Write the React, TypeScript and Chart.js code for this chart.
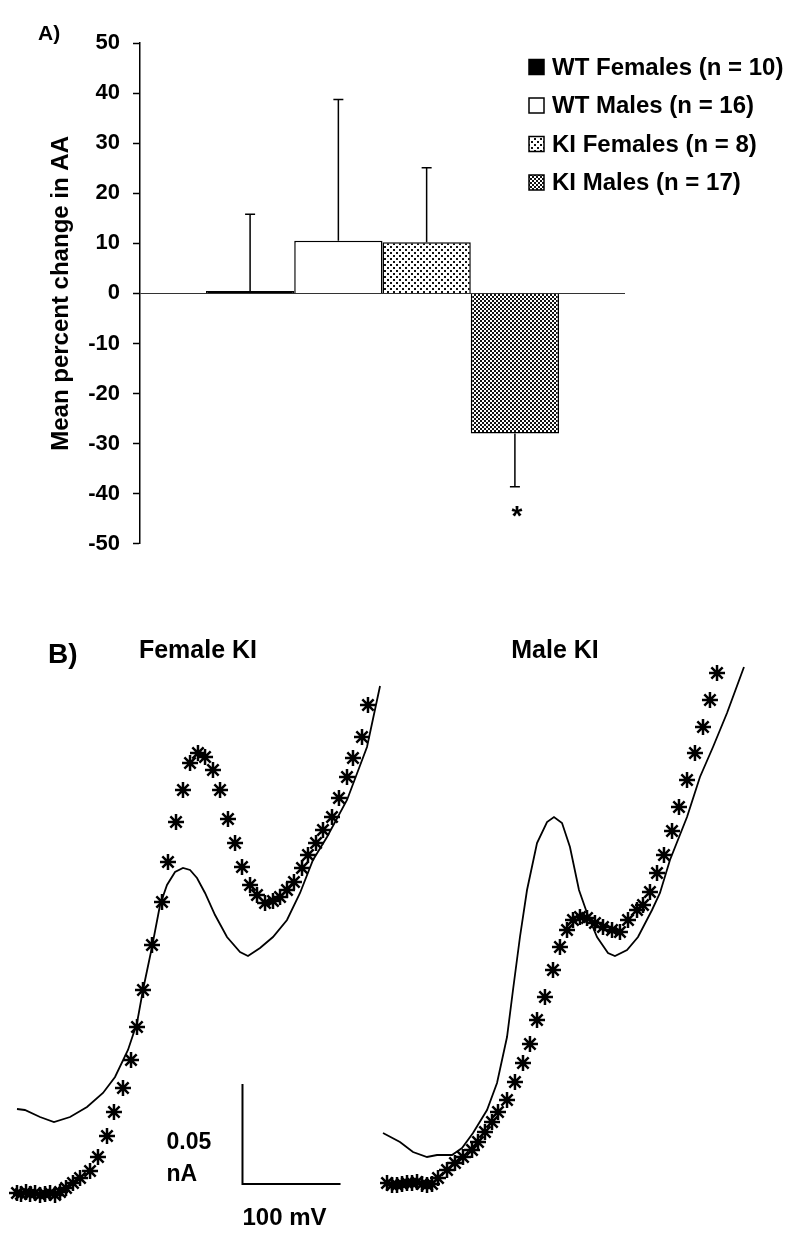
import React, { useEffect, useRef } from "react";
import { Chart, registerables } from "chart.js";

Chart.register(...registerables);

const FONT = "'Liberation Sans', Arial, Helvetica, sans-serif";

// ---------- Panel A data ----------
const groupLabels = [
  "WT Females (n = 10)",
  "WT Males (n = 16)",
  "KI Females (n = 8)",
  "KI Males (n = 17)",
];
const meanChange = [0.5, 10.5, 10.2, -28.0];
const errorSize = [15.3, 28.2, 14.9, 10.6];
const significant = [false, false, false, true];
const yMin = -50;
const yMax = 50;
const yStep = 10;

// ---------- Panel B data (potential in mV, current in nA) ----------
const femaleLineMV = [0, 8, 23.5, 37.7, 54.1, 71.4, 87.7, 100, 113.2, 122.4, 128.5, 137.7, 145.9, 153, 161.2, 169.3, 176.5, 183.6, 191.8, 202, 214.2, 227.5, 235.6, 247.9, 261.1, 275.4, 288.7, 301.9, 316.2, 336.6, 357, 370.3];
const femaleLineNA = [0.0455, 0.045, 0.0415, 0.039, 0.0415, 0.0465, 0.0535, 0.0615, 0.075, 0.0885, 0.105, 0.1265, 0.1475, 0.1575, 0.164, 0.166, 0.165, 0.161, 0.1535, 0.1425, 0.1315, 0.124, 0.122, 0.126, 0.1315, 0.14, 0.1535, 0.17, 0.1815, 0.2, 0.2265, 0.257];

const femaleStarMV = [0, 4.1, 9.2, 13.3, 18.4, 23.5, 28.6, 33.7, 38.8, 43.9, 50, 57.1, 64.3, 74.5, 82.6, 91.8, 98.9, 108.1, 116.3, 122.4, 128.5, 137.7, 147.9, 154, 162.2, 169.3, 176.5, 184.6, 191.8, 199.9, 207.1, 215.2, 222.4, 229.5, 237.7, 244.8, 253, 261.1, 268.3, 275.4, 282.5, 290.7, 296.8, 305, 312.1, 321.3, 328.4, 336.6, 342.7, 351.9, 358];
const femaleStarNA = [0.0035, 0.003, 0.004, 0.003, 0.0035, 0.0025, 0.003, 0.0035, 0.0025, 0.004, 0.006, 0.0085, 0.011, 0.0145, 0.0215, 0.032, 0.044, 0.056, 0.07, 0.0865, 0.105, 0.1275, 0.149, 0.169, 0.189, 0.205, 0.2185, 0.2235, 0.2215, 0.215, 0.205, 0.1905, 0.1785, 0.1665, 0.1575, 0.1525, 0.1485, 0.1495, 0.1515, 0.155, 0.159, 0.166, 0.1725, 0.1785, 0.185, 0.1915, 0.201, 0.2115, 0.221, 0.2315, 0.2475];

const maleLineMV = [0, 17.3, 30.6, 44.9, 55.1, 70.4, 80.6, 91.8, 106.1, 116.3, 126.5, 132.6, 139.7, 146.9, 157.1, 167.3, 174.4, 182.6, 190.7, 199.9, 208.1, 218.3, 229.5, 236.6, 248.9, 260.1, 274.4, 282.5, 292.7, 310.1, 323.3, 336.6, 350.9, 368.2];
const maleLineNA = [0.0335, 0.029, 0.024, 0.0215, 0.0225, 0.0225, 0.026, 0.0335, 0.045, 0.0585, 0.0815, 0.105, 0.1315, 0.155, 0.1785, 0.189, 0.1915, 0.1885, 0.1765, 0.155, 0.1435, 0.1315, 0.1235, 0.122, 0.125, 0.1315, 0.145, 0.1535, 0.17, 0.1915, 0.2115, 0.2265, 0.2435, 0.2665];

const maleStarMV = [4.1, 9.2, 14.3, 19.4, 24.5, 29.6, 34.7, 39.8, 44.9, 50, 56.1, 65.3, 73.4, 81.6, 90.8, 96.9, 104, 111.2, 117.3, 126.5, 134.6, 142.8, 149.9, 157.1, 165.2, 173.4, 180.5, 187.7, 193.8, 200.9, 208.1, 216.2, 224.4, 233.6, 241.7, 249.9, 259.1, 265.2, 272.3, 279.5, 286.6, 294.8, 301.9, 310.1, 318.2, 326.4, 333.5, 340.7];
const maleStarNA = [0.0085, 0.0075, 0.0075, 0.008, 0.0085, 0.0085, 0.009, 0.008, 0.0075, 0.008, 0.011, 0.015, 0.0185, 0.0215, 0.025, 0.029, 0.034, 0.039, 0.044, 0.05, 0.059, 0.0685, 0.078, 0.09, 0.1015, 0.115, 0.1265, 0.135, 0.14, 0.1415, 0.141, 0.1385, 0.1365, 0.135, 0.134, 0.14, 0.145, 0.1475, 0.154, 0.1635, 0.1725, 0.1845, 0.1965, 0.21, 0.2235, 0.2365, 0.25, 0.2635];

// scale bar
const scaleBarMV = 100;
const scaleBarNA = 0.05;
const scaleBarOriginMV = 230;
const scaleBarOriginNA = 0.008;

const zip = (xs: number[], ys: number[]) => xs.map((x, i) => ({ x, y: ys[i] }));

function makePattern(kind: "dots" | "check"): CanvasPattern | string {
  const c = document.createElement("canvas");
  const size = kind === "dots" ? 6 : 4;
  c.width = size;
  c.height = size;
  const g = c.getContext("2d")!;
  g.fillStyle = "#fff";
  g.fillRect(0, 0, size, size);
  g.fillStyle = "#111";
  if (kind === "dots") {
    g.fillRect(0, 0, 2, 2);
    g.fillRect(3, 3, 2, 2);
  } else {
    g.fillRect(0, 0, 2, 2);
    g.fillRect(2, 2, 2, 2);
  }
  const p = g.createPattern(c, "repeat");
  return p || "#888";
}

function PanelA() {
  const ref = useRef<HTMLCanvasElement>(null);
  useEffect(() => {
    const fills = ["#000", "#fff", makePattern("dots"), makePattern("check")];
    const overlay = {
      id: "overlayA",
      afterDatasetsDraw(chart: any) {
        const ctx = chart.ctx;
        const ys = chart.scales.y;
        ctx.save();
        ctx.strokeStyle = "#000";
        ctx.lineWidth = 1.5;
        chart.data.datasets.forEach((ds: any, i: number) => {
          const bar = chart.getDatasetMeta(i).data[0];
          const v = ds.data[0];
          const end = v >= 0 ? v + errorSize[i] : v - errorSize[i];
          const yv = ys.getPixelForValue(v);
          const ye = ys.getPixelForValue(end);
          ctx.beginPath();
          ctx.moveTo(bar.x, yv);
          ctx.lineTo(bar.x, ye);
          ctx.moveTo(bar.x - 5, ye);
          ctx.lineTo(bar.x + 5, ye);
          ctx.stroke();
          if (significant[i]) {
            ctx.fillStyle = "#000";
            ctx.font = `bold 28px ${FONT}`;
            ctx.textAlign = "center";
            ctx.textBaseline = "alphabetic";
            ctx.fillText("*", bar.x + 2, ye + 38);
          }
        });
        ctx.restore();
      },
      afterDraw(chart: any) {
        const ctx = chart.ctx;
        ctx.save();
        ctx.fillStyle = "#000";
        ctx.font = `bold 21px ${FONT}`;
        ctx.textAlign = "left";
        ctx.textBaseline = "middle";
        ctx.fillText("A)", 38, 34);
        // legend
        ctx.font = `bold 24px ${FONT}`;
        chart.data.datasets.forEach((ds: any, i: number) => {
          const cy = 67 + i * 38.5;
          ctx.fillStyle = ds.backgroundColor;
          ctx.fillRect(529, cy - 7.5, 15, 15);
          ctx.strokeStyle = "#000";
          ctx.lineWidth = 1.5;
          ctx.strokeRect(529, cy - 7.5, 15, 15);
          ctx.fillStyle = "#000";
          ctx.fillText(ds.label, 552, cy + 1);
        });
        ctx.restore();
      },
    };
    const chart = new Chart(ref.current!, {
      type: "bar",
      data: {
        labels: [""],
        datasets: groupLabels.map((label, i) => ({
          label,
          data: [meanChange[i]],
          backgroundColor: fills[i] as any,
          borderColor: "#000",
          borderWidth: 1.5,
          barPercentage: 1,
          categoryPercentage: 0.728,
        })),
      },
      options: {
        responsive: false,
        animation: false,
        layout: { padding: { top: 43, bottom: 22, left: 0, right: 175 } },
        plugins: { legend: { display: false }, tooltip: { enabled: false } },
        scales: {
          x: { display: false },
          y: {
            min: yMin,
            max: yMax,
            afterFit: (s: any) => {
              s.width = 140;
            },
            ticks: {
              stepSize: yStep,
              color: "#000",
              padding: 13,
              font: { family: FONT, size: 22, weight: "bold" },
            },
            grid: {
              color: (c: any) => (c.tick && c.tick.value === 0 ? "#333" : "rgba(0,0,0,0)"),
              lineWidth: 1,
              tickColor: "#000",
              tickLength: 7,
              tickWidth: 1.5,
            },
            border: { display: true, color: "#000", width: 1.5 },
            title: {
              display: true,
              text: "Mean percent change in AA",
              color: "#000",
              font: { family: FONT, size: 24, weight: "bold" },
              padding: { top: 47, bottom: 0 },
            },
          },
        },
      },
      plugins: [overlay],
    });
    return () => chart.destroy();
  }, []);
  return (
    <canvas
      ref={ref}
      width={800}
      height={570}
      style={{ position: "absolute", left: 0, top: 0, width: 800, height: 570 }}
    />
  );
}

type VProps = {
  left: number;
  width: number;
  title: string;
  titleX: number;
  xMin: number;
  xMax: number;
  lineX: number[];
  lineY: number[];
  starX: number[];
  starY: number[];
  withPanelLabel: boolean;
  withScaleBar: boolean;
};

const B_TOP = 620;
const B_HEIGHT = 625;
const B_YMIN = -0.0225;
const B_YMAX = 0.29;

function Voltammogram(p: VProps) {
  const ref = useRef<HTMLCanvasElement>(null);
  useEffect(() => {
    const overlay = {
      id: "overlayB",
      afterDraw(chart: any) {
        const ctx = chart.ctx;
        ctx.save();
        ctx.fillStyle = "#000";
        ctx.textBaseline = "middle";
        if (p.withPanelLabel) {
          ctx.font = `bold 28px ${FONT}`;
          ctx.textAlign = "left";
          ctx.fillText("B)", 48, 35);
        }
        ctx.font = `bold 25px ${FONT}`;
        ctx.textAlign = "center";
        ctx.fillText(p.title, p.titleX, 31);
        if (p.withScaleBar) {
          const xs = chart.scales.x;
          const ys = chart.scales.y;
          const x0 = xs.getPixelForValue(scaleBarOriginMV);
          const x1 = xs.getPixelForValue(scaleBarOriginMV + scaleBarMV);
          const y0 = ys.getPixelForValue(scaleBarOriginNA);
          const y1 = ys.getPixelForValue(scaleBarOriginNA + scaleBarNA);
          ctx.strokeStyle = "#000";
          ctx.lineWidth = 2;
          ctx.beginPath();
          ctx.moveTo(x0, y1);
          ctx.lineTo(x0, y0);
          ctx.lineTo(x1, y0);
          ctx.stroke();
          ctx.textAlign = "left";
          ctx.font = `bold 23px ${FONT}`;
          ctx.fillText("0.05", x0 - 76, y1 + 59);
          ctx.fillText("nA", x0 - 76, y1 + 91);
          ctx.font = `bold 24px ${FONT}`;
          ctx.fillText("100 mV", x0, y0 + 34);
        }
        ctx.restore();
      },
    };
    const chart = new Chart(ref.current!, {
      type: "scatter",
      data: {
        datasets: [
          {
            label: "Solid trace",
            data: zip(p.lineX, p.lineY),
            showLine: true,
            pointRadius: 0,
            borderColor: "#000",
            borderWidth: 1.8,
            tension: 0,
            clip: false as any,
          },
          {
            label: "Asterisk trace",
            data: zip(p.starX, p.starY),
            showLine: false,
            pointStyle: "star",
            pointRadius: 8,
            borderColor: "#000",
            backgroundColor: "#000",
            borderWidth: 2.5,
            clip: false as any,
          },
        ],
      },
      options: {
        responsive: false,
        animation: false,
        layout: { padding: 0, autoPadding: false },
        plugins: { legend: { display: false }, tooltip: { enabled: false } },
        scales: {
          x: { type: "linear", display: false, min: p.xMin, max: p.xMax },
          y: { type: "linear", display: false, min: B_YMIN, max: B_YMAX },
        },
      },
      plugins: [overlay],
    });
    return () => chart.destroy();
  }, []);
  return (
    <canvas
      ref={ref}
      width={p.width}
      height={B_HEIGHT}
      style={{ position: "absolute", left: p.left, top: B_TOP, width: p.width, height: B_HEIGHT }}
    />
  );
}

export default function App() {
  return (
    <div style={{ position: "absolute", left: 0, top: 0, width: 800, height: 1245, background: "#fff", overflow: "hidden" }}>
      <PanelA />
      <Voltammogram
        left={0}
        width={400}
        title="Female KI"
        titleX={198}
        xMin={-17.34}
        xMax={390.66}
        lineX={femaleLineMV}
        lineY={femaleLineNA}
        starX={femaleStarMV}
        starY={femaleStarNA}
        withPanelLabel={true}
        withScaleBar={true}
      />
      <Voltammogram
        left={380}
        width={420}
        title="Male KI"
        titleX={175}
        xMin={-3.06}
        xMax={425.34}
        lineX={maleLineMV}
        lineY={maleLineNA}
        starX={maleStarMV}
        starY={maleStarNA}
        withPanelLabel={false}
        withScaleBar={false}
      />
    </div>
  );
}
